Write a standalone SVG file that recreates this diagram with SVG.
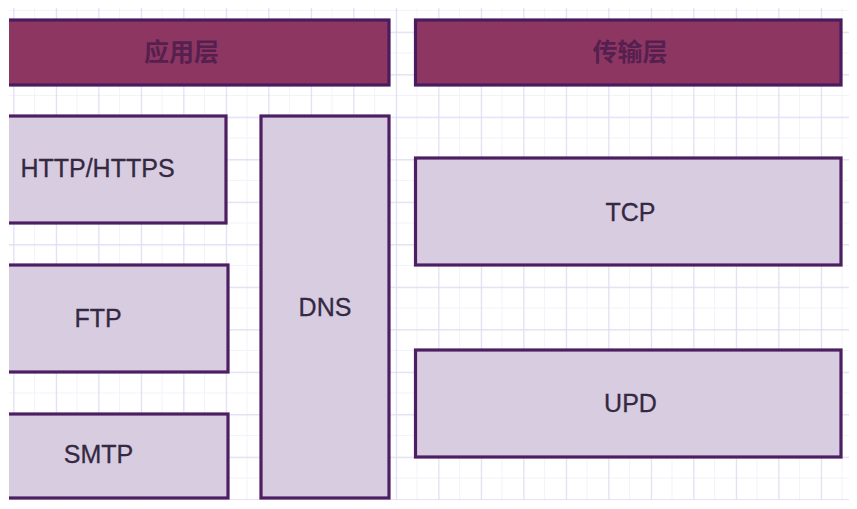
<svg xmlns="http://www.w3.org/2000/svg" width="857" height="509" viewBox="0 0 857 509">
  <defs>
    <pattern id="grid" patternUnits="userSpaceOnUse" x="13.3" y="31.7" width="42.5" height="42.5">
      <path d="M21.25 0V42.5M0 21.25H42.5" stroke="#F2F2FB" stroke-width="1" fill="none"/>
      <path d="M0.5 0V42.5M0 0.5H42.5" stroke="#DCDCF3" stroke-width="1.3" fill="none"/>
    </pattern>
    <clipPath id="area">
      <rect x="9" y="8" width="840" height="492"/>
    </clipPath>
    <style>
      .layer rect { fill: #8E3662; stroke: #4A1C5E; stroke-width: 3.2; }
      .layer text { font-family: "Noto Sans CJK SC", "Liberation Sans", sans-serif; font-size: 25px; fill: #55204F; text-anchor: middle; font-weight: 700; }
      .proto rect { fill: #D8CCE0; stroke: #4D1E62; stroke-width: 3.2; }
      .proto text { font-family: "Liberation Sans", Arial, sans-serif; font-size: 25px; fill: #342842; text-anchor: middle; stroke: #342842; stroke-width: 0.3; }
    </style>
  </defs>
  <rect width="857" height="509" fill="#FFFFFF"/>
  <g clip-path="url(#area)">
    <rect x="9" y="8" width="840" height="492" fill="url(#grid)"/>
    <g id="node-app-layer" class="layer">
      <rect x="-20" y="20" width="409" height="65"/>
      <text x="181.5" y="61">应用层</text>
    </g>
    <g id="node-transport-layer" class="layer">
      <rect x="415.5" y="20" width="425.5" height="65"/>
      <text x="630" y="61">传输层</text>
    </g>
    <g id="node-http" class="proto">
      <rect x="-40" y="116" width="266" height="107"/>
      <text x="97.5" y="177">HTTP/HTTPS</text>
    </g>
    <g id="node-ftp" class="proto">
      <rect x="-40" y="265" width="268" height="107"/>
      <text x="98" y="327">FTP</text>
    </g>
    <g id="node-smtp" class="proto">
      <rect x="-40" y="414" width="268" height="84"/>
      <text x="98.5" y="463">SMTP</text>
    </g>
    <g id="node-dns" class="proto">
      <rect x="261" y="116" width="128" height="382"/>
      <text x="325" y="316">DNS</text>
    </g>
    <g id="node-tcp" class="proto">
      <rect x="415.5" y="158" width="425.5" height="107"/>
      <text x="630.5" y="221">TCP</text>
    </g>
    <g id="node-upd" class="proto">
      <rect x="415.5" y="350" width="425.5" height="107"/>
      <text x="630.5" y="412">UPD</text>
    </g>
    <g id="connectors"/>
  </g>
</svg>
